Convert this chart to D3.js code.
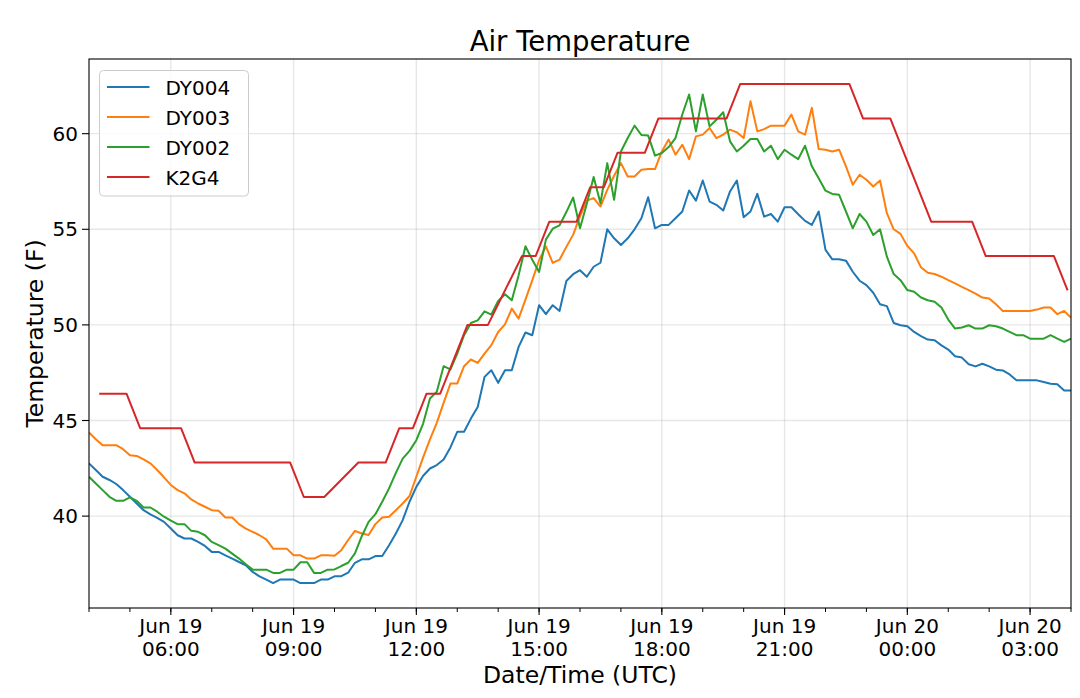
<!DOCTYPE html>
<html>
<head>
<meta charset="utf-8">
<script src="https://cdn.jsdelivr.net/npm/d3@7"></script>
<style>
  body { margin: 0; background: #fff; }
  text { font-family: "DejaVu Sans", sans-serif; fill: #000; }
</style>
</head>
<body>
<div id="chart"></div>
<script>
// station readings, DY sensors every 10 minutes from dyStart
const dyStart = "2019-06-19T04:00:00Z";
const dyStepMinutes = 10;

const dy004 = [
  42.76, 42.41, 42.06, 41.89, 41.68, 41.36, 41.01, 40.66, 40.31, 40.09, 39.91, 39.70,
  39.35, 39.00, 38.83, 38.83, 38.65, 38.44, 38.13, 38.13, 37.95, 37.78, 37.60, 37.43,
  37.08, 36.85, 36.68, 36.50, 36.68, 36.68, 36.68, 36.50, 36.50, 36.50, 36.68, 36.68,
  36.85, 36.86, 37.04, 37.56, 37.74, 37.74, 37.91, 37.91, 38.48, 39.09, 39.79, 40.75,
  41.53, 42.11, 42.49, 42.67, 42.96, 43.59, 44.41, 44.41, 45.10, 45.71, 47.28, 47.63,
  46.97, 47.63, 47.63, 48.85, 49.60, 49.46, 51.03, 50.56, 51.03, 50.73, 52.30, 52.65,
  52.86, 52.52, 53.04, 53.25, 55.00, 54.53, 54.18, 54.53, 55.00, 55.58, 56.68, 55.05,
  55.23, 55.23, 55.58, 55.93, 57.03, 56.50, 57.55, 56.45, 56.28, 55.98, 56.98, 57.55,
  55.63, 55.93, 56.85, 55.66, 55.80, 55.40, 56.15, 56.15, 55.79, 55.44, 55.23, 55.93,
  53.92, 53.43, 53.43, 53.36, 52.78, 52.31, 52.08, 51.68, 51.08, 50.98, 50.10, 49.98,
  49.93, 49.63, 49.41, 49.23, 49.20, 48.93, 48.71, 48.36, 48.29, 47.94, 47.83, 47.97,
  47.83, 47.66, 47.62, 47.41, 47.10, 47.10, 47.10, 47.10, 47.01, 46.92, 46.89, 46.57,
  46.57
];

const dy003 = [
  44.37, 44.02, 43.71, 43.71, 43.71, 43.50, 43.18, 43.15, 42.97, 42.76, 42.41, 42.03,
  41.63, 41.36, 41.19, 40.87, 40.66, 40.49, 40.31, 40.28, 39.93, 39.93, 39.58, 39.35,
  39.18, 39.00, 38.78, 38.30, 38.30, 38.30, 37.95, 37.95, 37.78, 37.78, 37.95, 37.95,
  37.93, 38.22, 38.75, 39.23, 39.09, 39.01, 39.58, 39.93, 39.97, 40.31, 40.66, 41.05,
  42.06, 43.07, 44.01, 44.88, 45.92, 46.93, 46.93, 47.84, 48.19, 48.01, 48.50, 48.94,
  49.63, 50.03, 50.85, 50.33, 51.32, 52.33, 53.38, 54.11, 53.24, 53.41, 54.08, 54.72,
  55.68, 56.50, 56.63, 56.19, 57.06, 57.80, 58.46, 57.76, 57.76, 58.11, 58.15, 58.15,
  59.07, 59.69, 58.90, 59.42, 58.67, 59.86, 59.95, 60.30, 59.77, 59.95, 60.21, 60.07,
  59.77, 61.70, 60.12, 60.24, 60.42, 60.42, 60.42, 61.00, 60.12, 59.95, 61.35, 59.20,
  59.16, 59.07, 59.16, 58.29, 57.33, 57.85, 57.59, 57.24, 57.55, 55.84, 55.00, 54.76,
  54.13, 53.74, 53.01, 52.73, 52.66, 52.52, 52.34, 52.17, 51.99, 51.82, 51.64, 51.43,
  51.38, 51.08, 50.73, 50.73, 50.73, 50.73, 50.73, 50.80, 50.91, 50.91, 50.56, 50.73,
  50.38
];

const dy002 = [
  42.06, 41.71, 41.36, 41.01, 40.80, 40.80, 40.98, 40.80, 40.45, 40.45, 40.23, 39.97,
  39.76, 39.58, 39.58, 39.23, 39.18, 39.00, 38.65, 38.48, 38.30, 38.04, 37.78, 37.48,
  37.20, 37.20, 37.20, 37.03, 37.03, 37.20, 37.20, 37.59, 37.59, 37.03, 37.03, 37.20,
  37.21, 37.39, 37.56, 38.05, 38.95, 39.70, 40.10, 40.75, 41.45, 42.26, 43.01, 43.41,
  43.97, 44.84, 46.15, 46.50, 47.84, 47.67, 48.50, 49.46, 50.10, 50.24, 50.71, 50.54,
  51.25, 51.60, 51.29, 52.60, 54.11, 53.41, 52.77, 54.46, 55.03, 55.21, 55.90, 56.66,
  55.05, 56.33, 57.73, 56.36, 58.46, 56.54, 59.07, 59.77, 60.42, 59.93, 59.90, 58.85,
  58.99, 59.30, 59.77, 61.00, 62.05, 60.12, 62.05, 60.38, 60.73, 61.12, 59.60, 59.07,
  59.37, 59.72, 59.72, 59.07, 59.37, 58.67, 59.16, 58.90, 58.67, 59.37, 58.29, 57.67,
  57.02, 56.85, 56.80, 55.93, 55.05, 55.80, 55.40, 54.70, 55.00, 53.57, 52.66, 52.34,
  51.82, 51.73, 51.43, 51.29, 51.21, 50.91, 50.28, 49.81, 49.86, 49.98, 49.81, 49.81,
  49.98, 49.93, 49.81, 49.63, 49.46, 49.46, 49.28, 49.28, 49.28, 49.46, 49.28, 49.11,
  49.28
];

// airport observations (irregular times)
const k2g4Times = [
  "06-19 04:15", "06-19 04:35", "06-19 04:55", "06-19 05:15", "06-19 05:35", "06-19 05:55",
  "06-19 06:15", "06-19 06:35", "06-19 06:55", "06-19 07:15", "06-19 07:35", "06-19 07:55",
  "06-19 08:15", "06-19 08:35", "06-19 08:55", "06-19 09:15", "06-19 09:35", "06-19 09:45",
  "06-19 10:35", "06-19 10:55", "06-19 11:15", "06-19 11:35", "06-19 11:55", "06-19 12:15",
  "06-19 12:35", "06-19 12:55", "06-19 13:15", "06-19 13:35", "06-19 13:45", "06-19 14:35",
  "06-19 14:55", "06-19 15:15", "06-19 15:35", "06-19 15:55", "06-19 16:15", "06-19 16:35",
  "06-19 16:55", "06-19 17:15", "06-19 17:35", "06-19 17:55", "06-19 18:15", "06-19 18:35",
  "06-19 18:55", "06-19 19:15", "06-19 19:35", "06-19 19:55", "06-19 20:15", "06-19 20:35",
  "06-19 20:55", "06-19 21:15", "06-19 21:35", "06-19 21:55", "06-19 22:15", "06-19 22:35",
  "06-19 22:55", "06-19 23:15", "06-19 23:35", "06-19 23:55", "06-20 00:15", "06-20 00:35",
  "06-20 00:55", "06-20 01:15", "06-20 01:35", "06-20 01:55", "06-20 02:15", "06-20 02:35",
  "06-20 02:55", "06-20 03:15", "06-20 03:35", "06-20 03:55"
];
const k2g4Temps = [
  46.4, 46.4, 46.4, 44.6, 44.6, 44.6,
  44.6, 42.8, 42.8, 42.8, 42.8, 42.8,
  42.8, 42.8, 42.8, 41.0, 41.0, 41.0,
  42.8, 42.8, 42.8, 44.6, 44.6, 46.4,
  46.4, 48.2, 50.0, 50.0, 50.0, 53.6,
  53.6, 55.4, 55.4, 55.4, 57.2, 57.2,
  59.0, 59.0, 59.0, 60.8, 60.8, 60.8,
  60.8, 60.8, 60.8, 62.6, 62.6, 62.6,
  62.6, 62.6, 62.6, 62.6, 62.6, 62.6,
  60.8, 60.8, 60.8, 59.0, 57.2, 55.4,
  55.4, 55.4, 55.4, 53.6, 53.6, 53.6,
  53.6, 53.6, 53.6, 51.8
];

const seriesNames = ["DY004", "DY003", "DY002", "K2G4"];
const seriesColors = ["#1f77b4", "#ff7f0e", "#2ca02c", "#d62728"];
const yTicks = [40, 45, 50, 55, 60];

const width = 1080, height = 698;
const margin = {top: 59, right: 9, bottom: 90, left: 89};
const innerW = width - margin.left - margin.right,
      innerH = height - margin.top - margin.bottom;

const parseK = d3.utcParse("%Y-%m-%d %H:%M");
const t0 = new Date(dyStart);
const dyTime = i => d3.utcMinute.offset(t0, i * dyStepMinutes);

const series = [
  dy004.map((v, i) => ({t: dyTime(i), v})),
  dy003.map((v, i) => ({t: dyTime(i), v})),
  dy002.map((v, i) => ({t: dyTime(i), v})),
  k2g4Times.map((s, i) => ({t: parseK("2019-" + s), v: k2g4Temps[i]}))
];

const svg = d3.select("#chart").append("svg")
    .attr("width", width)
    .attr("height", height);

const g = svg.append("g")
    .attr("transform", `translate(${margin.left},${margin.top})`);

const x = d3.scaleUtc()
    .domain([t0, dyTime(dy004.length - 1)])
    .range([0, innerW]);

// matplotlib style 5% padding around the data
const allV = series.flat().map(d => d.v);
const vMin = d3.min(allV), vMax = d3.max(allV), pad = (vMax - vMin) * 0.05;
const y = d3.scaleLinear()
    .domain([vMin - pad, vMax + pad])
    .range([innerH, 0]);

const majorTicks = x.ticks(d3.utcHour.every(3));
const minorTicks = x.ticks(d3.utcHour.every(1));

// grid
g.append("g").selectAll("line")
  .data(majorTicks)
  .join("line")
    .attr("x1", d => x(d)).attr("x2", d => x(d))
    .attr("y1", 0).attr("y2", innerH)
    .attr("stroke", "#b0b0b0").attr("stroke-opacity", 0.3).attr("stroke-width", 1.4);
g.append("g").selectAll("line")
  .data(yTicks)
  .join("line")
    .attr("x1", 0).attr("x2", innerW)
    .attr("y1", d => y(d)).attr("y2", d => y(d))
    .attr("stroke", "#b0b0b0").attr("stroke-opacity", 0.3).attr("stroke-width", 1.4);

// lines
svg.append("defs").append("clipPath").attr("id", "clip")
  .append("rect").attr("width", innerW).attr("height", innerH);

const line = d3.line().x(d => x(d.t)).y(d => y(d.v));

g.append("g").attr("clip-path", "url(#clip)")
  .selectAll("path")
  .data(series)
  .join("path")
    .attr("d", line)
    .attr("fill", "none")
    .attr("stroke", (d, i) => seriesColors[i])
    .attr("stroke-width", 2)
    .attr("stroke-linejoin", "round");

// x axis
const xAxis = g.append("g").attr("transform", `translate(0,${innerH})`);
xAxis.selectAll(".minor")
  .data(minorTicks)
  .join("line")
    .attr("x1", d => x(d)).attr("x2", d => x(d))
    .attr("y1", 0).attr("y2", 4)
    .attr("stroke", "#000").attr("stroke-width", 1);
const xt = xAxis.selectAll(".major")
  .data(majorTicks)
  .join("g")
    .attr("transform", d => `translate(${x(d)},0)`);
xt.append("line").attr("y2", 7).attr("stroke", "#000").attr("stroke-width", 1.1);
const xtText = xt.append("text")
    .attr("text-anchor", "middle")
    .style("font-size", "20px");
xtText.append("tspan").attr("x", 0).attr("y", 25).text(d3.utcFormat("%b %d"));
xtText.append("tspan").attr("x", 0).attr("y", 48).text(d3.utcFormat("%H:%M"));

// y axis
const yt = g.append("g").selectAll("g")
  .data(yTicks)
  .join("g")
    .attr("transform", d => `translate(0,${y(d)})`);
yt.append("line").attr("x2", -7).attr("stroke", "#000").attr("stroke-width", 1.1);
yt.append("text")
    .attr("x", -11).attr("y", 7)
    .attr("text-anchor", "end")
    .style("font-size", "20px")
    .text(d => d);

// frame
g.append("rect")
    .attr("width", innerW).attr("height", innerH)
    .attr("fill", "none").attr("stroke", "#000").attr("stroke-width", 1.1);

// labels
svg.append("text")
    .attr("x", margin.left + innerW / 2).attr("y", 51)
    .attr("text-anchor", "middle")
    .style("font-size", "27.5px")
    .text("Air Temperature");
svg.append("text")
    .attr("x", margin.left + innerW / 2).attr("y", 683)
    .attr("text-anchor", "middle")
    .style("font-size", "23.5px")
    .text("Date/Time (UTC)");
svg.append("text")
    .attr("transform", `translate(43,${margin.top + innerH / 2}) rotate(-90)`)
    .attr("text-anchor", "middle")
    .style("font-size", "23.5px")
    .text("Temperature (F)");

// legend
const legend = svg.append("g").attr("transform", "translate(99.5,70.5)");
legend.append("rect")
    .attr("width", 149).attr("height", 125.5).attr("rx", 4)
    .attr("fill", "#fff").attr("fill-opacity", 0.8)
    .attr("stroke", "#cccccc").attr("stroke-width", 1);
const li = legend.selectAll(".item")
  .data(seriesNames)
  .join("g")
    .attr("transform", (d, i) => `translate(0,${16.5 + i * 30})`);
li.append("line")
    .attr("x1", 7.5).attr("x2", 50)
    .attr("stroke", (d, i) => seriesColors[i]).attr("stroke-width", 2);
li.append("text")
    .attr("x", 66).attr("y", 7.5)
    .style("font-size", "20px")
    .text(d => d);
</script>
</body>
</html>
